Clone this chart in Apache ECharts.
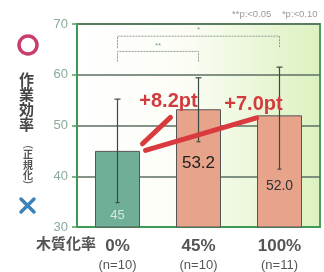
<!DOCTYPE html>
<html>
<head>
<meta charset="utf-8">
<script src="https://cdn.jsdelivr.net/npm/echarts@6/dist/echarts.min.js"></script>
<style>
  html, body { margin: 0; padding: 0; background: #fff; }
  #chart { width: 324px; height: 272px; }
</style>
</head>
<body>
<div id="chart"></div>
<script>
// wood ratio categories and sample sizes
const categories = ['0%', '45%', '100%'];
const sampleSizes = ['(n=10)', '(n=10)', '(n=11)'];
// normalized work efficiency (mean) and error bar ends
const efficiency = [45, 53.2, 52.0];
const errLow = [34.8, 46.8, 41.4];
const errHigh = [55.2, 59.4, 61.5];
const valueLabels = ['45', '53.2', '52.0'];
// gain vs 0%: [from, to, label]
const gains = [[0, 1, '+8.2pt'], [0, 2, '+7.0pt']];
// significance brackets: [from, to, y value, mark]
const brackets = [[0, 2, 67.6, '*'], [0, 1, 64.6, '**']];
const yTicks = { min: 30, max: 70, interval: 10 };

const barColors = ['#6fae97', '#e7a48b', '#e7a48b'];
const FONT = '"Liberation Sans", Arial, sans-serif';
const JP = '"Noto Sans CJK JP", sans-serif';

var myChart = echarts.init(document.getElementById('chart'));

var option = {
    animation: false,
    grid: {
        left: 77, top: 24, right: 4, bottom: 45,
        show: true,
        borderColor: '#4f9e5f',
        borderWidth: 2,
        backgroundColor: new echarts.graphic.LinearGradient(0, 0, 1, 0, [
            { offset: 0, color: '#ffffff' },
            { offset: 0.45, color: '#fbfdf5' },
            { offset: 1, color: '#dcf1bf' }
        ])
    },
    xAxis: {
        type: 'category',
        data: categories,
        axisLine: { lineStyle: { color: '#3f9a55', width: 2 } },
        axisTick: { show: false },
        axisLabel: {
            margin: 9,
            formatter: function (v, i) {
                return '{a|' + v + '}\n{b|' + sampleSizes[i] + '}';
            },
            rich: {
                a: { fontFamily: FONT, fontSize: 17, fontWeight: 'bold', color: '#555', lineHeight: 20 },
                b: { fontFamily: FONT, fontSize: 13, color: '#555', lineHeight: 18 }
            }
        }
    },
    yAxis: {
        type: 'value',
        min: yTicks.min, max: yTicks.max, interval: yTicks.interval,
        axisLine: { show: true, lineStyle: { color: '#3f9a55', width: 2 } },
        axisTick: { show: true, length: 5, lineStyle: { color: '#4f9e5f', width: 1.5 } },
        axisLabel: { fontFamily: FONT, fontSize: 13, color: '#8aab99', margin: 9 },
        splitLine: { lineStyle: { color: '#5d6f62', width: 1.5 } }
    },
    series: [
        {
            type: 'bar',
            barWidth: 45,
            z: 2,
            data: efficiency.map(function (v, i) {
                const pos = [
                    { position: 'insideBottom', distance: 6, color: '#d8e6e0', fontSize: 13 },
                    { position: 'inside', offset: [0, -5], color: '#222', fontSize: 17 },
                    { position: 'inside', offset: [0, 15], color: '#333', fontSize: 14 }
                ][i];
                return {
                    value: v,
                    itemStyle: { color: barColors[i], borderColor: '#555', borderWidth: 1 },
                    label: Object.assign({ show: true, fontFamily: FONT, formatter: valueLabels[i] }, pos)
                };
            })
        },
        {
            // error bars
            type: 'custom',
            z: 5,
            data: efficiency.map(function (v, i) { return [i, errLow[i], errHigh[i]]; }),
            renderItem: function (params, api) {
                const lo = api.coord([api.value(0), api.value(1)]);
                const hi = api.coord([api.value(0), api.value(2)]);
                const st = { stroke: '#3c4a44', lineWidth: 1.2 };
                return {
                    type: 'group',
                    children: [
                        { type: 'line', shape: { x1: hi[0], y1: hi[1], x2: lo[0], y2: lo[1] }, style: st },
                        { type: 'line', shape: { x1: hi[0] - 3, y1: hi[1], x2: hi[0] + 3, y2: hi[1] }, style: st },
                        { type: 'line', shape: { x1: lo[0] - 2, y1: lo[1], x2: lo[0] + 2, y2: lo[1] }, style: st }
                    ]
                };
            }
        },
        {
            // significance brackets
            type: 'custom',
            z: 4,
            data: brackets.map(function (b) { return [b[0], b[1], b[2]]; }),
            renderItem: function (params, api) {
                const a = api.coord([api.value(0), api.value(2)]);
                const b = api.coord([api.value(1), api.value(2)]);
                const leg = params.dataIndex === 0 ? 12 : 10;
                const st = { stroke: '#8f9c93', lineWidth: 1, lineDash: [2, 1], fill: null };
                return {
                    type: 'group',
                    children: [
                        { type: 'polyline', shape: { points: [[a[0], a[1] + leg], [a[0], a[1]], [b[0], b[1]], [b[0], b[1] + leg]] }, style: st },
                        { type: 'text', x: (a[0] + b[0]) / 2, y: a[1] - 2,
                          style: { text: brackets[params.dataIndex][3], fill: '#7f9f8c', fontSize: 8, fontFamily: FONT, align: 'center', verticalAlign: 'bottom' } }
                    ]
                };
            }
        },
        {
            // red gain lines and labels
            type: 'custom',
            z: 6,
            data: gains.map(function (g) { return [g[0], g[1]]; }),
            renderItem: function (params, api) {
                const from = api.value(0), to = api.value(1);
                const first = params.dataIndex === 0;
                const p0 = api.coord([from, efficiency[from] + (first ? 1.4 : 0.1)]);
                const p1 = api.coord([to, efficiency[to] - (first ? 1.6 : 0.5)]);
                const half = 23;
                const x0 = p0[0] + half + (first ? 2 : 5);
                const x1 = p1[0] - half - (first ? 5 : 0);
                const tx = first ? x1 - 2 : x1 - 3;
                const ty = first ? p1[1] - 16 : p1[1] - 13;
                return {
                    type: 'group',
                    children: [
                        { type: 'line', shape: { x1: x0, y1: p0[1], x2: x1, y2: p1[1] },
                          style: { stroke: '#d83a3e', lineWidth: 5, lineCap: 'round' } },
                        { type: 'text', x: tx, y: ty,
                          style: { text: gains[params.dataIndex][2], fill: '#d23c3e', fontSize: 20, fontWeight: 'bold', fontFamily: FONT, align: 'center', verticalAlign: 'middle' } }
                    ]
                };
            }
        }
    ],
    graphic: [
        { type: 'text', left: 232, top: 9, style: { text: '**p:<0.05    *p:<0.10', fill: '#9a9a9a', fontSize: 9.5, fontFamily: FONT } },
        { type: 'circle', shape: { cx: 28, cy: 45, r: 9 }, style: { fill: null, stroke: '#c93d6d', lineWidth: 3.5 } },
        { type: 'text', x: 19, y: 72, style: { text: '作\n業\n効\n率', fill: '#444', fontSize: 15, fontWeight: 'bold', fontFamily: JP, lineHeight: 15 } },
        { type: 'text', x: 28, y: 147, rotation: -Math.PI / 2, style: { text: '(', fill: '#555', fontSize: 11, fontFamily: FONT, align: 'center', verticalAlign: 'middle' } },
        { type: 'text', x: 28, y: 165, style: { text: '正\n規\n化', fill: '#555', fontSize: 10, fontWeight: 'bold', fontFamily: JP, lineHeight: 10.5, align: 'center', verticalAlign: 'middle' } },
        { type: 'text', x: 28, y: 182, rotation: -Math.PI / 2, style: { text: ')', fill: '#555', fontSize: 11, fontFamily: FONT, align: 'center', verticalAlign: 'middle' } },
        { type: 'line', shape: { x1: 21, y1: 199, x2: 34, y2: 212 }, style: { stroke: '#3c82b8', lineWidth: 3.5, lineCap: 'round' } },
        { type: 'line', shape: { x1: 34, y1: 199, x2: 21, y2: 212 }, style: { stroke: '#3c82b8', lineWidth: 3.5, lineCap: 'round' } },
        { type: 'text', x: 36, y: 236, style: { text: '木質化率', fill: '#555', fontSize: 15, fontWeight: 'bold', fontFamily: JP } }
    ]
};

option && myChart.setOption(option);
</script>
</body>
</html>
